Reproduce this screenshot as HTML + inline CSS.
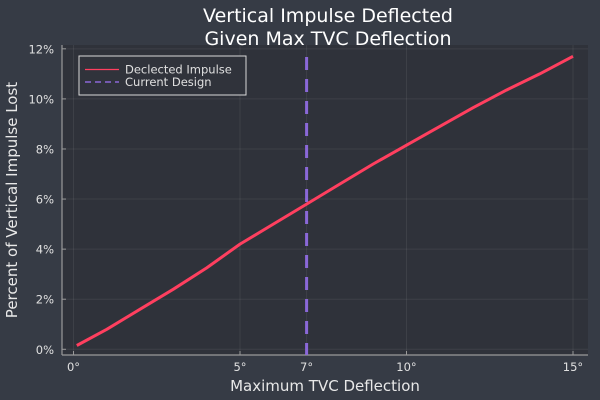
<!DOCTYPE html>
<html><head><meta charset="utf-8"><style>
html,body{margin:0;padding:0;background:#363b45;}
svg{display:block;font-family:"DejaVu Sans","Liberation Sans",sans-serif;}
</style></head><body>
<svg width="600" height="400" viewBox="0 0 600 400">
<rect x="0" y="0" width="600" height="400" fill="#363b45"/>
<rect x="62" y="45" width="526" height="310" fill="#2f323a"/>
<g id="grid"></g>
<g id="axes"></g>
<g id="series"></g>
<text x="328" y="22" fill="#ffffff" font-size="19" text-anchor="middle">Vertical Impulse Deflected</text>
<text x="328" y="45" fill="#ffffff" font-size="19" text-anchor="middle">Given Max TVC Deflection</text>
<text x="325" y="391" fill="#e8e8e8" font-size="15" text-anchor="middle">Maximum TVC Deflection</text>
<text transform="translate(17,200) rotate(-90)" fill="#e8e8e8" font-size="15" text-anchor="middle">Percent of Vertical Impulse Lost</text>
<g>
<rect x="79" y="56" width="167" height="39" fill="#30333b" stroke="#d8d8d8" stroke-width="1"/>
<line x1="85" y1="69.5" x2="119" y2="69.5" stroke="#ff3f5f" stroke-width="1.3"/>
<text x="125" y="73.5" fill="#e0e0e0" font-size="11.5">Declected Impulse</text>
<line x1="85" y1="82" x2="119" y2="82" stroke="#8a68d8" stroke-width="1.5" stroke-dasharray="6,4"/>
<text x="125" y="86" fill="#e0e0e0" font-size="11.5">Current Design</text>
</g>
</svg>
<script>
const xTicks=[0,5,7,10,15];
const xTickLabels=["0°","5°","7°","10°","15°"];
const yTicks=[0,2,4,6,8,10,12];
const yTickLabels=["0%","2%","4%","6%","8%","10%","12%"];
const deflection=[0.1,1,2,3,4,5,6,7,8,9,10,11,12,13,14,15];
const impulseLost=[0.15,0.8,1.6,2.4,3.25,4.2,5.0,5.8,6.6,7.4,8.15,8.9,9.65,10.35,11.0,11.7];
const currentDesign=7;
const NS="http://www.w3.org/2000/svg";
function xs(v){return 73.5+v*33.3;}
function ys(v){return 349.3-v*25.04;}
function mk(tag,attrs,parent){const e=document.createElementNS(NS,tag);for(const k in attrs)e.setAttribute(k,attrs[k]);parent.appendChild(e);return e;}
const grid=document.getElementById('grid'),axes=document.getElementById('axes'),series=document.getElementById('series');
xTicks.forEach((t,i)=>{
 const g=mk('line',{x1:xs(t),x2:xs(t),y1:45,y2:355,stroke:'#ffffff','stroke-opacity':0.07},grid);
 
 
 const tk=mk('line',{x1:xs(t),x2:xs(t),y1:355,y2:351,stroke:'#9a9a9a'},axes);
 
 
 const tx=mk('text',{x:xs(t),y:371,fill:'#e0e0e0','font-size':11.5,'text-anchor':'middle'},axes);
 tx.textContent=xTickLabels[i];
 
 
});
yTicks.forEach((t,i)=>{
 const g=mk('line',{x1:62,x2:588,y1:ys(t),y2:ys(t),stroke:'#ffffff','stroke-opacity':0.07},grid);
 
 
 const tk=mk('line',{x1:62,x2:66,y1:ys(t),y2:ys(t),stroke:'#9a9a9a'},axes);
 
 
 const tx=mk('text',{x:54,y:ys(t)+4.5,fill:'#e0e0e0','font-size':11.5,'text-anchor':'end'},axes);
 tx.textContent=yTickLabels[i];
 
 
});
const xa=mk('line',{x1:62,x2:588,y1:355,y2:355,stroke:'#9a9a9a','stroke-width':1.2},axes);


const ya=mk('line',{x1:62,x2:62,y1:45,y2:355,stroke:'#9a9a9a','stroke-width':1.2},axes);


const vl=mk('line',{x1:xs(currentDesign),x2:xs(currentDesign),y1:57,y2:355,stroke:'#8a68d8','stroke-width':3,'stroke-dasharray':'13,9'},series);


const pts=deflection.map((d,i)=>xs(d).toFixed(1)+','+ys(impulseLost[i]).toFixed(1)).join(' ');
const pl=mk('polyline',{points:pts,fill:'none',stroke:'#ff3f5f','stroke-width':3,'stroke-linejoin':'round'},series);


</script>
</body></html>
